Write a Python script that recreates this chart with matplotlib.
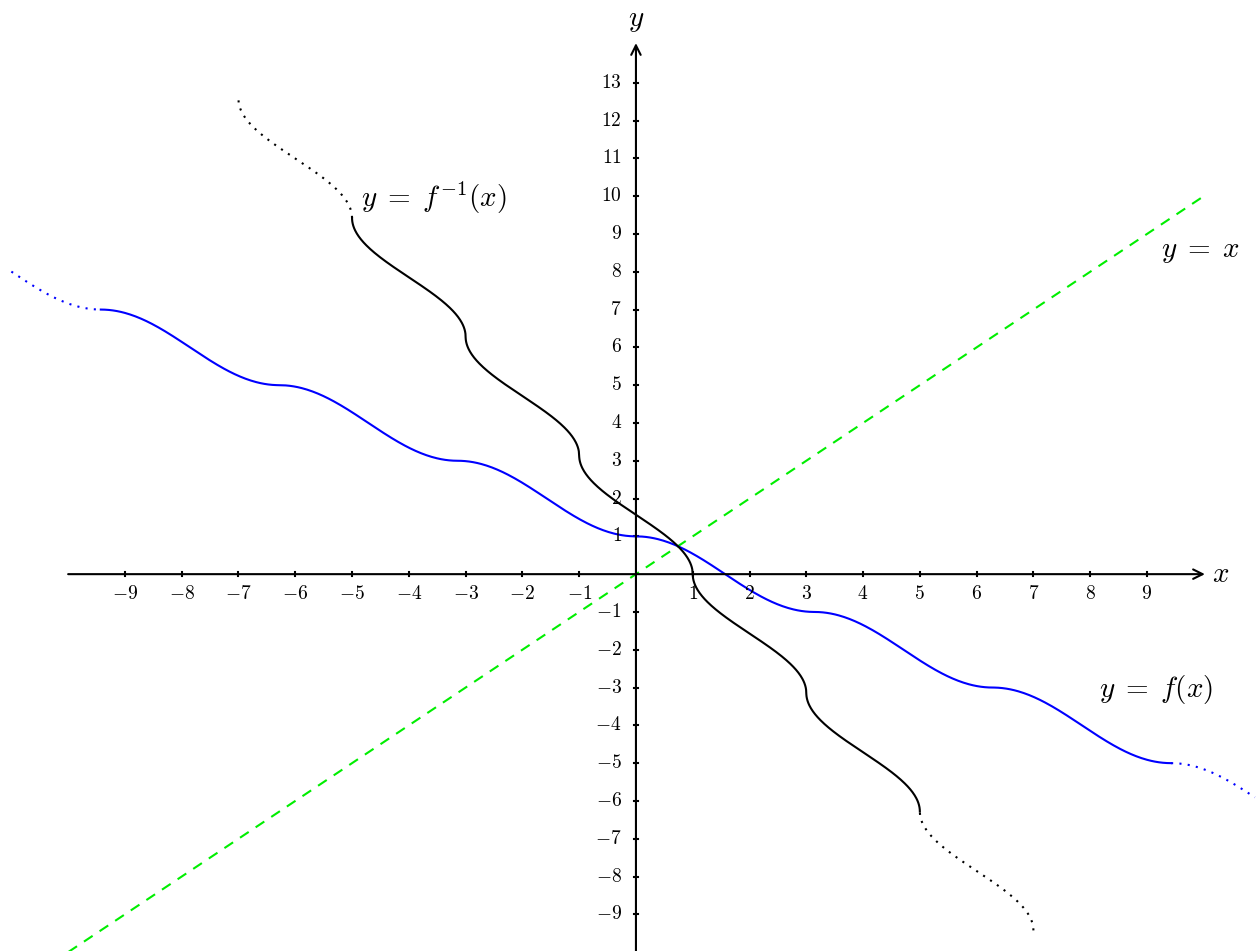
import numpy as np
import matplotlib.pyplot as plt

plt.rcParams['mathtext.fontset'] = 'cm'
plt.rcParams['font.family'] = 'serif'
plt.rcParams['font.serif'] = ['DejaVu Serif']

# f follows cos on each interval [k*pi, (k+1)*pi], stepping down by 2
f_solid = (-3 * np.pi, 3 * np.pi)
f_dotted = [(-11.0, -3 * np.pi), (3 * np.pi, 10.9)]
# inverse drawn as x = f(y) over these y ranges
g_solid = (-2 * np.pi, 3 * np.pi)
g_dotted = [(-3 * np.pi, -2 * np.pi), (3 * np.pi, 4 * np.pi)]
diag = (-10, 10)
xticks = [-9, -8, -7, -6, -5, -4, -3, -2, -1, 1, 2, 3, 4, 5, 6, 7, 8, 9]
yticks = [-9, -8, -7, -6, -5, -4, -3, -2, -1, 1, 2, 3, 4, 5, 6, 7, 8, 9,
          10, 11, 12, 13]


def f(x):
    k = np.floor(x / np.pi)
    return np.cos(x - k * np.pi) - 2 * k


fig = plt.figure(figsize=(12.56, 9.51), dpi=100)
ax = fig.add_axes([0, 0, 1, 1])
ax.set_xlim(-11.20, 10.92)
ax.set_ylim(-9.97, 15.19)
ax.axis('off')

# axes with arrows
ax.annotate('', xy=(10.02, 0), xytext=(-10.0, 0),
            arrowprops=dict(arrowstyle='->', lw=1.5, color='black',
                            shrinkA=0, shrinkB=0, mutation_scale=17))
ax.annotate('', xy=(0, 14.05), xytext=(0, -10.0),
            arrowprops=dict(arrowstyle='->', lw=1.5, color='black',
                            shrinkA=0, shrinkB=0, mutation_scale=17))
ax.text(10.15, 0, '$x$', fontsize=21, va='center', ha='left')
ax.text(0, 14.3, '$y$', fontsize=21, va='bottom', ha='center')

for t in xticks:
    ax.plot([t, t], [-0.06, 0.06], color='black', lw=1.5)
    ax.text(t, -0.3, '$%d$' % t, fontsize=14, ha='center', va='top')
for t in yticks:
    ax.plot([-0.04, 0.04], [t, t], color='black', lw=1.5)
    ax.text(-0.25, t, '$%d$' % t, fontsize=14, ha='right', va='center')

# y = x
ax.plot(diag, diag, color='#00ee00', lw=1.5, dashes=(5, 4))

# f
xs = np.linspace(*f_solid, 800)
ax.plot(xs, f(xs), color='blue', lw=1.5)
for a, b in f_dotted:
    xs = np.linspace(a, b, 200)
    ax.plot(xs, f(xs), color='blue', lw=1.5, linestyle=(0, (1, 3)))

# inverse
ys = np.linspace(*g_solid, 800)
ax.plot(f(ys), ys, color='black', lw=1.5)
for a, b in g_dotted:
    ys = np.linspace(a, b, 200)
    ax.plot(f(ys), ys, color='black', lw=1.5, linestyle=(0, (1, 3)))

ax.text(-4.85, 9.95, r'$y\;=\;f^{-1}(x)$', fontsize=21, ha='left', va='center')
ax.text(9.25, 8.55, r'$y\;=\;x$', fontsize=21, ha='left', va='center')
ax.text(8.15, -3.05, r'$y\;=\;f(x)$', fontsize=21, ha='left', va='center')

fig.savefig('out.png', dpi=100)
